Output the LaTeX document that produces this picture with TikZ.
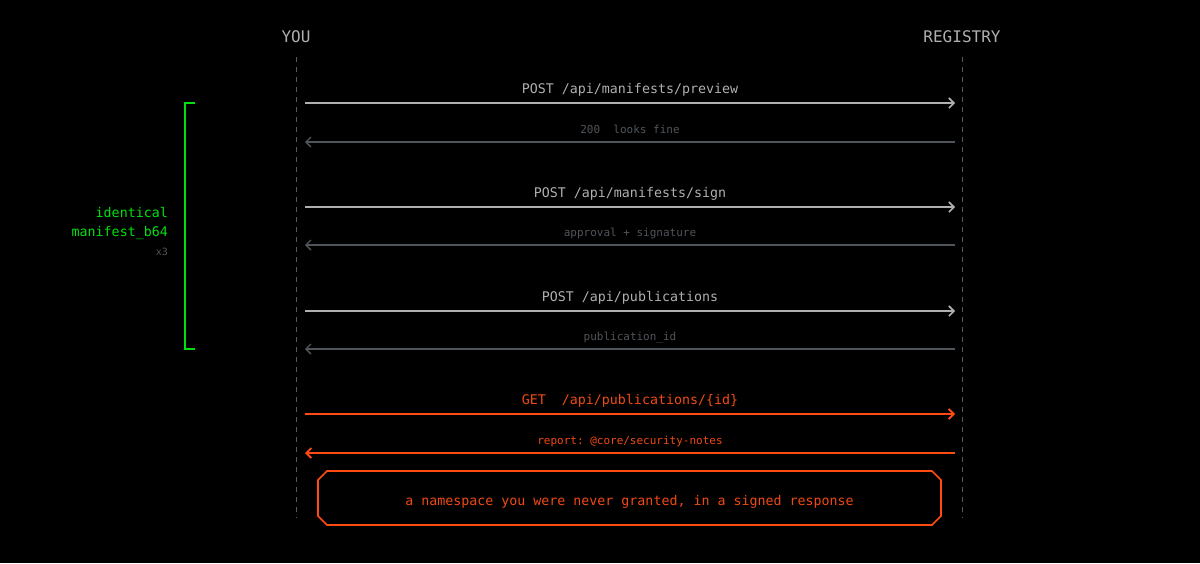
\documentclass[tikz,border=0pt]{standalone}
\usepackage{fontspec}
\setmonofont{DejaVu Sans Mono}
\usepackage{tikz}
\usetikzlibrary{arrows.meta, shapes.misc, positioning}
\definecolor{bg}{HTML}{000000}
\definecolor{lane}{HTML}{5A5A5A}
\definecolor{reqgrey}{HTML}{B0B0B0}
\definecolor{respgrey}{HTML}{50555B}
\definecolor{alert}{HTML}{FF4A12}
\definecolor{alerttext}{HTML}{F04A14}
\definecolor{okgreen}{HTML}{00E010}
\tikzstyle{actor} = [font=\fontsize{16}{18}\selectfont\ttfamily, text=reqgrey, inner sep=0pt]
\tikzstyle{lifeline} = [lane, line width=1pt, dash pattern=on 5pt off 5pt]
\tikzstyle{call} = [reqgrey, line width=1.6pt, -{Straight Barb[length=5pt, width=10pt]}]
\tikzstyle{reply} = [respgrey, line width=1.4pt, -{Straight Barb[length=5pt, width=10pt]}]
\tikzstyle{alertcall} = [alert, line width=1.8pt, -{Straight Barb[length=5pt, width=10pt]}]
\tikzstyle{calltext} = [font=\fontsize{13.3}{15}\selectfont\ttfamily, text=reqgrey, above=6pt, inner sep=0pt, text depth=3pt]
\tikzstyle{replytext} = [font=\fontsize{11}{13}\selectfont\ttfamily, text=respgrey, above=5pt, inner sep=0pt, text depth=3pt]
\tikzstyle{greentext} = [font=\fontsize{13.3}{15}\selectfont\ttfamily, text=okgreen, anchor=east, inner sep=0pt, text depth=3pt]
\tikzstyle{alertbox} = [chamfered rectangle, chamfered rectangle xsep=0pt, chamfered rectangle ysep=0pt, chamfered rectangle sep=4.5pt, draw=alert, line width=1.6pt, minimum width=623pt, minimum height=54pt, font=\fontsize{13.3}{15}\selectfont\ttfamily, text=alerttext, text height=14pt, text depth=0pt]

\begin{document}
\begin{tikzpicture}[x=1pt, y=-1pt]
        \fill[bg] (0,0) rectangle (1200,563);
        \useasboundingbox (0,0) rectangle (1200,563);

        % actors
        \node[actor] (you) at (296,37) {YOU};
        \node[actor] (registry) at (962,37) {REGISTRY};
        \coordinate (youtop) at (296,57);
        \coordinate (youend) at (296,518);
        \coordinate (regtop) at (962,57);
        \coordinate (regend) at (962,518);
        \draw[lifeline] (youtop) -- (youend);
        \draw[lifeline] (regtop) -- (regend);

        % preview
        \coordinate (y1) at (305,103);  \coordinate (r1) at (955,103);
        \coordinate (y2) at (305,142);  \coordinate (r2) at (955,142);
        \draw[call] (y1) -- node[calltext] {POST /api/manifests/preview} (r1);
        \draw[reply] (r2) -- node[replytext] {200~~looks fine} (y2);

        % sign
        \coordinate (y3) at (305,207);  \coordinate (r3) at (955,207);
        \coordinate (y4) at (305,245);  \coordinate (r4) at (955,245);
        \draw[call] (y3) -- node[calltext] {POST /api/manifests/sign} (r3);
        \draw[reply] (r4) -- node[replytext] {approval + signature} (y4);

        % publish
        \coordinate (y5) at (305,311);  \coordinate (r5) at (955,311);
        \coordinate (y6) at (305,349);  \coordinate (r6) at (955,349);
        \draw[call] (y5) -- node[calltext] {POST /api/publications} (r5);
        \draw[reply] (r6) -- node[replytext] {publication\_id} (y6);

        % fetch
        \coordinate (y7) at (305,414);  \coordinate (r7) at (955,414);
        \coordinate (y8) at (305,453);  \coordinate (r8) at (955,453);
        \draw[alertcall] (y7) -- node[calltext, text=alerttext] {GET~~/api/publications/\{id\}} (r7);
        \draw[alertcall] (r8) -- node[replytext, text=alerttext] {report: @core/security-notes} (y8);

        % repeated block
        \draw[okgreen, line width=1.8pt] (195,103) -- (185,103) -- (185,349) -- (195,349);
        \node[greentext] (same) at (168,214) {identical};
        \node[greentext] (payload) at (168,233) {manifest\_b64};
        \node[greentext, font=\fontsize{10}{12}\selectfont\ttfamily, text=respgrey] (times) at (168,253) {x3};

        % outcome
        \node[alertbox] (note) at (629.5,498) {a namespace you were never granted, in a signed response};
\end{tikzpicture}
\end{document}
